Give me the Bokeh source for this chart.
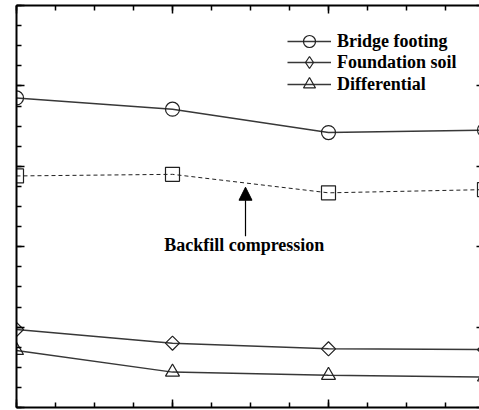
import numpy as np
from bokeh.plotting import figure
from bokeh.models import (FixedTicker, CustomJSTickFormatter, LinearAxis, Legend,
                          LegendItem, Arrow, NormalHead, Label, Range1d)
from bokeh.embed import file_html
from bokeh.resources import INLINE

# Stages along the horizontal axis
stages = [0, 1, 2, 3]

# Settlement readings per stage
bridge_footing = [3.85, 3.71, 3.42, 3.45]
backfill = [2.88, 2.90, 2.67, 2.71]
foundation_soil = [0.97, 0.80, 0.73, 0.72]
differential = [0.71, 0.44, 0.40, 0.38]

series_names = ["Bridge footing", "Foundation soil", "Differential"]

FONT = "Liberation Serif"
LINE = "#383838"
MARK = "#202020"

p = figure(width=479, height=410, output_backend="svg", toolbar_location=None,
           x_range=Range1d(0, 2.968), y_range=Range1d(0, 5),
           min_border_left=16, min_border_right=0, min_border_top=5,
           min_border_bottom=3, x_axis_location="below", y_axis_location="left")
p.outline_line_color = None
p.grid.visible = False
p.background_fill_color = "white"

x_ticks = FixedTicker(ticks=[0, 1, 2, 3], minor_ticks=list(np.arange(0, 3.01, 0.25)))
y_ticks = FixedTicker(ticks=[0, 1, 2, 3, 4, 5], minor_ticks=list(np.arange(0, 5.01, 0.25)))
blank = CustomJSTickFormatter(code="return ''")

p.add_layout(LinearAxis(), "above")
p.add_layout(LinearAxis(), "right")

for ax in p.xaxis:
    ax.ticker = x_ticks
for ax in p.yaxis:
    ax.ticker = y_ticks
for ax in p.xaxis + p.yaxis:
    ax.formatter = blank
    ax.major_label_standoff = 0
    ax.major_label_text_font_size = "1px"
    ax.major_tick_in = 8
    ax.major_tick_out = 0
    ax.minor_tick_in = 5
    ax.minor_tick_out = 0
    ax.axis_line_width = 2
    ax.axis_line_color = "black"
    ax.major_tick_line_width = 1.5
    ax.minor_tick_line_width = 1.5
    ax.major_tick_line_color = "black"
    ax.minor_tick_line_color = "black"

ry = p.yaxis[1]
ry.axis_line_color = None
ry.major_tick_in = 3
ry.minor_tick_in = 0

# Bridge footing
l1 = p.line(stages, bridge_footing, line_color=LINE, line_width=1.5)
m1 = p.scatter(stages, bridge_footing, marker="circle", size=14, fill_color=None,
               line_color=MARK, line_width=1.2)
# Backfill compression (dashed)
p.line(stages, backfill, line_color=MARK, line_width=1, line_dash="4 3")
p.scatter(stages, backfill, marker="square", size=14, fill_color=None,
          line_color=MARK, line_width=1.2)
# Foundation soil (diamond = square turned by 45 degrees)
l2 = p.line(stages, foundation_soil, line_color=LINE, line_width=1.5)
p.scatter(stages, foundation_soil, marker="square", angle=np.pi / 4, size=10,
          fill_color=None, line_color=MARK, line_width=1.2)
# legend key for the diamonds (no points of its own)
m2 = p.scatter([np.nan], [np.nan], marker="diamond", size=17, fill_color=None,
               line_color=MARK, line_width=1.2)
# Differential
l3 = p.line(stages, differential, line_color=LINE, line_width=1.5)
m3 = p.scatter(stages, differential, marker="triangle", size=14, fill_color=None,
               line_color=MARK, line_width=1.2)

# one single-row legend per series, stacked down the top right corner
row_bottoms = [351, 330, 308]
for name, rends, vy in zip(series_names, [[l1, m1], [l2, m2], [l3, m3]], row_bottoms):
    lg = Legend(items=[LegendItem(label=name, renderers=rends)], location=(271, vy))
    lg.label_text_font = FONT
    lg.label_text_font_style = "bold"
    lg.label_text_font_size = "18px"
    lg.label_text_color = "black"
    lg.glyph_width = 44
    lg.glyph_height = 30
    lg.label_height = 30
    lg.label_standoff = 6
    lg.spacing = 0
    lg.padding = 0
    lg.margin = 0
    lg.border_line_color = None
    lg.background_fill_alpha = 0
    p.add_layout(lg)

# Annotation pointing at the backfill curve
p.add_layout(Arrow(end=NormalHead(size=13, fill_color="black", line_color="black"),
                   x_start=1.468, y_start=2.13, x_end=1.468, y_end=2.74,
                   line_color="black", line_width=1.2))
p.add_layout(Label(x=1.46, y=2.015, text="Backfill compression", text_font=FONT,
                   text_font_style="bold", text_font_size="18px", text_color="black",
                   text_align="center", text_baseline="middle"))

open("out.html", "w").write(file_html(p, INLINE))
